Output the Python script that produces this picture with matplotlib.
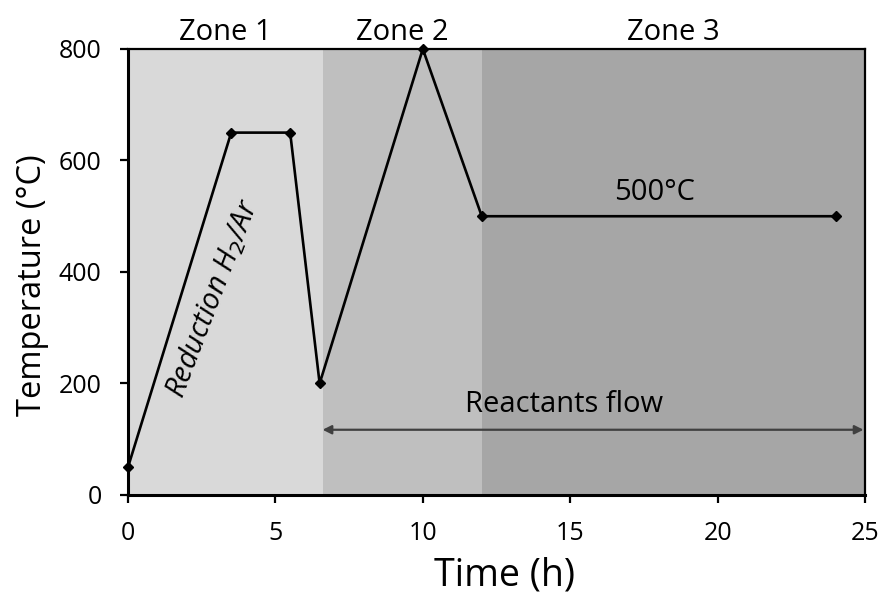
import matplotlib
matplotlib.use("Agg")
import matplotlib.pyplot as plt

plt.rcParams['font.family'] = ['Open Sans', 'DejaVu Sans']

# Temperature programme
time_h = [0, 3.5, 5.5, 6.5, 10, 12, 24]
temp_c = [50, 650, 650, 200, 800, 500, 500]

# Zone boundaries (h) and shading
zone_edges = [0, 6.6, 12, 25]
zone_names = ["Zone 1", "Zone 2", "Zone 3"]
zone_colors = ["#d9d9d9", "#bfbfbf", "#a6a6a6"]

x_ticks = [0, 5, 10, 15, 20, 25]
y_ticks = [0, 200, 400, 600, 800]

fig = plt.figure(figsize=(8.83, 5.96), dpi=100)
ax = fig.add_axes([0.145, 0.1695, 0.8346, 0.7483])

for (x0, x1), name, col in zip(zip(zone_edges[:-1], zone_edges[1:]), zone_names, zone_colors):
    ax.axvspan(x0, x1, color=col, lw=0, zorder=0)
    ax.text((x0 + x1) / 2, 816, name, ha='center', va='baseline', fontsize=21,
            clip_on=False)

ax.plot(time_h, temp_c, color='black', lw=1.9, marker='D', ms=5, zorder=3,
        clip_on=False)

# Reactant flow arrow
ax.annotate('', xy=(24.95, 117), xytext=(6.6, 117),
            arrowprops=dict(arrowstyle='<|-|>', color='#404040', lw=1.6,
                            mutation_scale=13, shrinkA=0, shrinkB=0))
ax.text(14.8, 149, 'Reactants flow', ha='center', va='baseline', fontsize=21)
ax.text(17.85, 529, '500°C', ha='center', va='baseline', fontsize=21)
ax.text(2.85, 352, r'Reduction H$_2$/Ar', rotation=69, ha='center', va='center',
        fontsize=21, style='italic')

ax.set_xlim(0, 25)
ax.set_ylim(0, 800)
ax.set_xticks(x_ticks)
ax.set_yticks(y_ticks)
ax.tick_params(labelsize=18, width=1.6, length=6, direction='out', color='black')
ax.tick_params(axis='x', pad=13)
ax.tick_params(axis='y', pad=13)

ax.set_xlabel('Time (h)', fontsize=27)
ax.xaxis.label.set_va('baseline')
ax.xaxis.set_label_coords(0.511, -0.203)
ax.set_ylabel('Temperature (°C)', fontsize=23.5)
ax.yaxis.label.set_ha('center')
ax.yaxis.label.set_va('center')
ax.yaxis.set_label_coords(-0.13, 0.471)

for side in ['left', 'bottom']:
    ax.spines[side].set_linewidth(2.2)
for side in ['top', 'right']:
    ax.spines[side].set_linewidth(1.6)

fig.savefig('out.png', dpi=100)
